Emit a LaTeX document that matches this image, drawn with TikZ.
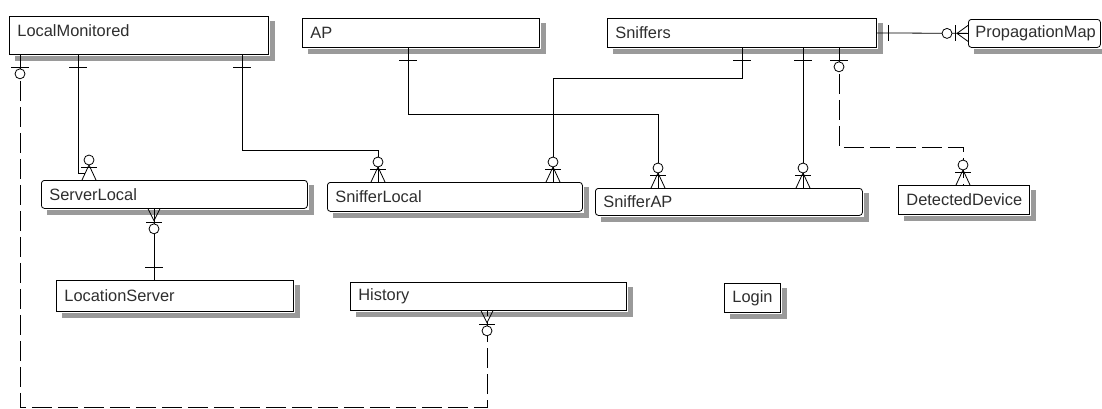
\documentclass[tikz,border=0pt]{standalone}
\usepackage{fontspec}
\setmainfont{Liberation Sans}
\usetikzlibrary{calc}
\definecolor{cText}{HTML}{2E2E2E}
\definecolor{cShade}{HTML}{9A9A9A}
% cardinality marks, #1 = point on the box edge
\newcommand{\oneP}[1]{\draw[rel] ($(#1)+(-9,13)$) -- ($(#1)+(9,13)$);}
\newcommand{\zeroP}[1]{\oneP{#1}\draw[rel,fill=white] ($(#1)+(0,19)$) circle (5pt);}
\newcommand{\manyC}[1]{%
  \draw[rel] ($(#1)+(-7,0)$) -- ($(#1)+(0,-15)$) -- ($(#1)+(7,0)$);
  \draw[rel] ($(#1)+(-8,-13)$) -- ($(#1)+(8,-13)$);
  \draw[rel,fill=white] ($(#1)+(0,-20)$) circle (5pt);}
\newcommand{\manyB}[1]{%
  \draw[rel] ($(#1)+(-6,0)$) -- ($(#1)+(0,12)$) -- ($(#1)+(6,0)$);
  \draw[rel] ($(#1)+(-8,14)$) -- ($(#1)+(8,14)$);
  \draw[rel,fill=white] ($(#1)+(0,20)$) circle (5pt);}

\begin{document}
\begin{tikzpicture}[
  x=1pt,y=-1pt,
  ent/.style n args={3}{draw,line width=0.8pt,fill=white,anchor=north west,
    inner xsep=8pt,inner ysep=0pt,align=left,text=cText,
    font=\fontsize{16.4}{19}\selectfont,
    minimum width=#1,text width=#2,minimum height=#3},
  rnd/.style={rounded corners=3pt},
  rel/.style={line width=0.8pt},
  dsh/.style={rel,dash pattern=on 20pt off 6pt},
  strip/.style={draw=cShade,line width=5pt}
]
\useasboundingbox (0,0) rectangle (1102,408);

% entities
\node[ent={259pt}{243pt}{38pt},text depth=10pt] (lm) at (9,16) {LocalMonitored};
\node[ent={237pt}{221pt}{29pt}] (ap) at (302,18) {AP};
\node[ent={269pt}{253pt}{29pt}] (sn) at (607,18) {Sniffers};
\node[ent={132pt}{118pt}{28pt},rnd,inner xsep=7pt] (pm) at (968,19) {PropagationMap};
\node[ent={266pt}{250pt}{28pt},rnd] (sl) at (41,180) {ServerLocal};
\node[ent={255pt}{239pt}{29pt},rnd] (sfl) at (327,182) {SnifferLocal};
\node[ent={267pt}{251pt}{27pt},rnd] (sap) at (595,188) {SnifferAP};
\node[ent={131pt}{115pt}{29pt}] (dd) at (898,185) {DetectedDevice};
\node[ent={237pt}{221pt}{31pt}] (ls) at (56,280) {LocationServer};
\node[ent={276pt}{260pt}{28pt}] (hi) at (350,282) {History};
\node[ent={56pt}{40pt}{29pt}] (lg) at (724,283) {Login};

% shadows along the right and bottom sides
\foreach \n in {lm,ap,sn,pm,sl,sfl,sap,dd,ls,hi,lg}{
  \draw[strip] ($(\n.north east)+(4,5)$) -- ($(\n.south east)+(4,5)$);
  \draw[strip] ($(\n.south west)+(6,3.5)$) -- ($(\n.south east)+(6.5,3.5)$);
}

% connector ends
\coordinate (lmD) at (lm.south -| 20,0);
\coordinate (lmS) at (lm.south -| 78,0);
\coordinate (lmF) at (lm.south -| 242,0);
\coordinate (apA) at (ap.south -| 408,0);
\coordinate (snF) at (sn.south -| 742,0);
\coordinate (snA) at (sn.south -| 803,0);
\coordinate (snD) at (sn.south -| 839,0);
\coordinate (slT) at (sl.north -| 89,0);
\coordinate (sflL) at (sfl.north -| 378,0);
\coordinate (sflS) at (sfl.north -| 553,0);
\coordinate (sapA) at (sap.north -| 658,0);
\coordinate (sapS) at (sap.north -| 803,0);
\coordinate (ddT) at (dd.north -| 963,0);
\coordinate (slB) at (sl.south -| 154,0);
\coordinate (lsT) at (ls.north -| 154,0);
\coordinate (hiB) at (hi.south -| 487,0);
\coordinate (pmW) at (pm.west);

% relationships
\draw[dsh] (lmD) -- (lmD |- 0,407) -| (hiB);
\draw[rel] (lmS) |- ($(slT)+(-4,-7)$);
\draw[rel] (lmF) -- (lmF |- 0,150) -| (sflL);
\draw[rel] (apA) -- (apA |- 0,114) -| (sapA);
\draw[rel] (snF) -- (snF |- 0,78) -| (sflS);
\draw[rel] (snA) -- (sapS);
\draw[dsh] (snD) -- (snD |- 0,147) -| (ddT);
\draw[rel] (sn.east) -- (pmW);
\draw[rel] (slB) -- (lsT);

% marks
\zeroP{lmD} \oneP{lmS} \oneP{lmF} \oneP{apA}
\oneP{snF} \oneP{snA} \zeroP{snD}
\manyC{slT} \manyC{sflL} \manyC{sflS} \manyC{sapA} \manyC{sapS} \manyC{ddT}
\manyB{slB} \manyB{hiB}
\draw[rel] ($(lsT)+(-9,-13)$) -- ($(lsT)+(9,-13)$);
\draw[rel] ($(sn.east)+(12,-8)$) -- ($(sn.east)+(12,8)$);
\draw[rel] ($(pmW)+(-11,0)$) -- ($(pmW)+(0,-8)$) ($(pmW)+(-11,0)$) -- ($(pmW)+(0,8)$);
\draw[rel] ($(pmW)+(-13,-8)$) -- ($(pmW)+(-13,8)$);
\draw[rel,fill=white] ($(pmW)+(-21,0)$) circle (5pt);
\end{tikzpicture}
\end{document}
